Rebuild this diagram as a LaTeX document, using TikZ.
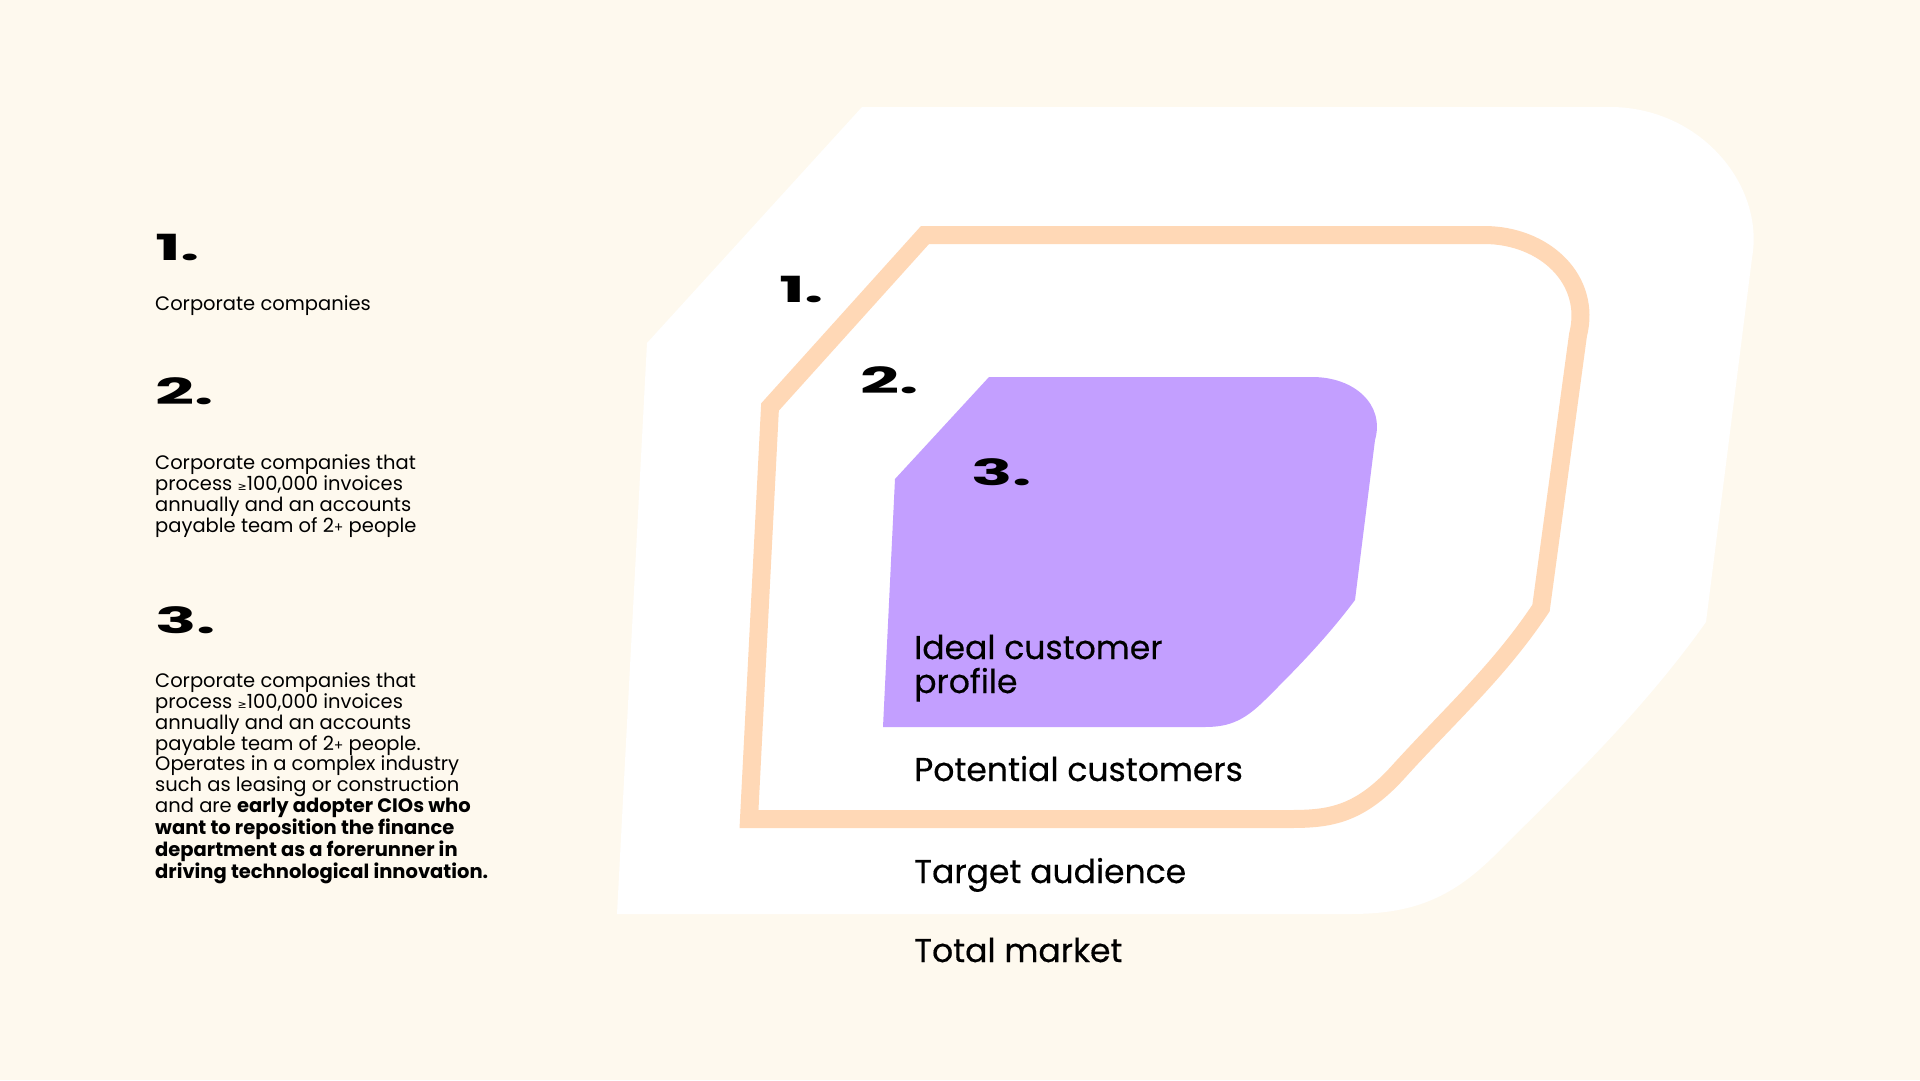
\documentclass[tikz,border=0pt]{standalone}
\usepackage{fontspec}
\setmainfont{Poppins}
\newfontfamily\numfont[FakeStretch=1.9]{Poppins}
\newfontfamily\labelfont[FakeBold=0.4]{Poppins}
\newfontfamily\symfont{DejaVu Sans}
\usepackage{xcolor}
\usepackage{tikz}

\definecolor{cream}{HTML}{FEF9EE}
\definecolor{peach}{HTML}{FFD8B6}
\definecolor{lilac}{HTML}{C39FFF}

\newcommand{\atleast}{{\symfont\fontsize{11}{11}\selectfont ≥}}
\newcommand{\smallplus}{{\fontsize{14}{14}\selectfont +}}

\tikzset{
  bignum/.style={anchor=base west, inner sep=0pt, font=\numfont\bfseries\fontsize{36}{36}\selectfont},
  bodytext/.style={anchor=base west, inner sep=0pt, align=left, font=\fontsize{19.5}{20.8}\selectfont},
  zonelabel/.style={anchor=base west, inner sep=0pt, align=left, font=\labelfont\fontsize{33}{34}\selectfont}
}

\begin{document}
\begin{tikzpicture}[x=1pt, y=-1pt]
\fill[cream] (0,0) rectangle (1920,1080);
\useasboundingbox (0,0) rectangle (1920,1080);

% nested market zones
\fill[white] (862,107) -- (1610,107) .. controls (1700,107) and (1765,185) .. (1752,258)
  -- (1706,622) .. controls (1640,715) and (1560,790) .. (1495,855)
  .. controls (1450,900) and (1410,914) .. (1350,914) -- (617,914) -- (647,343) -- cycle;
\draw[peach, line width=18pt, miter limit=10] (925,235) -- (1484,235) .. controls (1545,235) and (1592,280) .. (1578,335)
  -- (1541,608) .. controls (1500,670) and (1450,715) .. (1400,770)
  .. controls (1360,815) and (1330,819) .. (1290,819) -- (749,819) -- (770,407) -- cycle;
\fill[lilac] (989,377) -- (1312,377) .. controls (1355,377) and (1385,405) .. (1375,440)
  -- (1355,600) .. controls (1325,640) and (1295,670) .. (1266,699)
  .. controls (1245,720) and (1230,727) .. (1205,727) -- (883,727) -- (895,479) -- cycle;

\node[bignum] (zoneone) at (779,302) {1.};
\node[bignum] (zonetwo) at (860,393) {2.};
\node[bignum] (zonethree) at (971,485) {3.};

% multi-line nodes sit on their last baseline
\node[zonelabel] (icp) at (914,693) {Ideal customer\\profile};
\node[zonelabel] (potential) at (914,781) {Potential customers};
\node[zonelabel] (target) at (914,883) {Target audience};
\node[zonelabel] (total) at (914,962) {Total market};

% legend column
\node[bignum] (numone) at (155,260) {1.};
\node[bodytext] (textone) at (155,310) {Corporate companies};
\node[bignum] (numtwo) at (155,404) {2.};
\node[bodytext] (texttwo) at (155,532) {Corporate companies that\\process \atleast100,000 invoices\\annually and an accounts\\payable team of 2\smallplus\ people};
\node[bignum] (numthree) at (155,633) {3.};
\node[bodytext] (textthree) at (155,878) {Corporate companies that\\process \atleast100,000 invoices\\annually and an accounts\\payable team of 2\smallplus\ people.\\Operates in a complex industry\\such as leasing or construction\\and are \textbf{early adopter CIOs who}\\\textbf{want to reposition the finance}\\\textbf{department as a forerunner in}\\\textbf{driving technological innovation.}};
\end{tikzpicture}
\end{document}
